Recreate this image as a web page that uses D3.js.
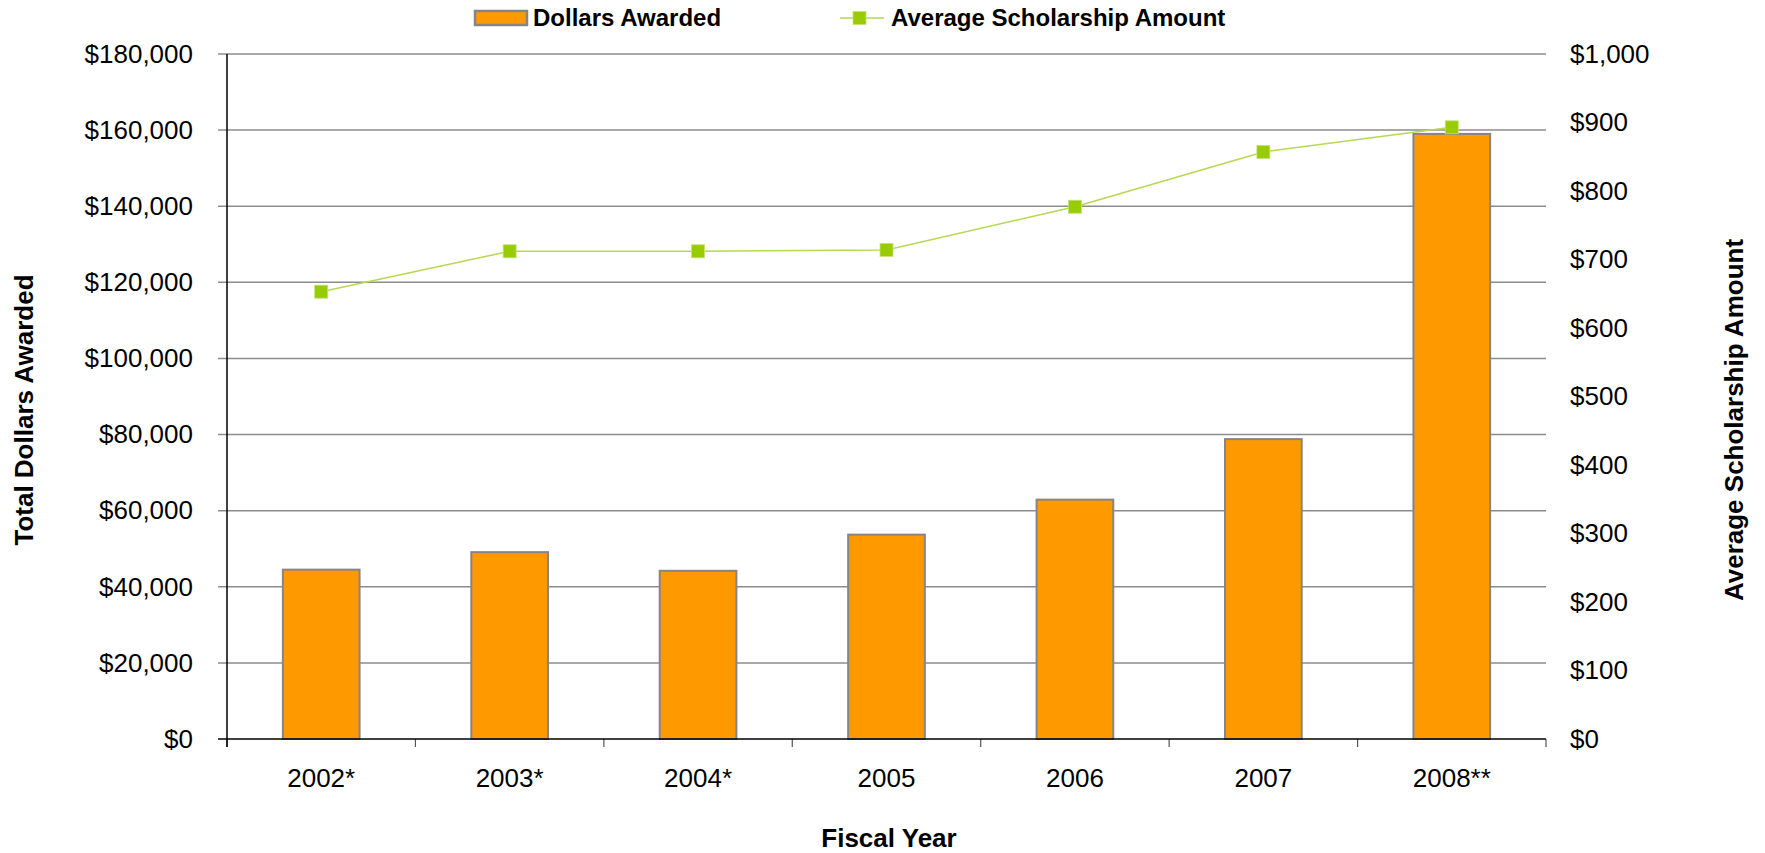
<!DOCTYPE html>
<html>
<head>
<meta charset="utf-8">
<script src="https://cdn.jsdelivr.net/npm/d3@7"></script>
<style>
  html, body { margin: 0; padding: 0; background: #fff; }
  svg { display: block; font-family: "Liberation Sans", Arial, sans-serif; }
</style>
</head>
<body>
<svg id="chart" width="1765" height="853"></svg>
<script>
const categories = ["2002*", "2003*", "2004*", "2005", "2006", "2007", "2008**"];
const dollarsAwarded = [44500, 49100, 44200, 53700, 62900, 78800, 159000];
const averageScholarship = [653, 712, 712, 714, 777, 857, 893];
const leftTicks = [0, 20000, 40000, 60000, 80000, 100000, 120000, 140000, 160000, 180000];
const rightTicks = [0, 100, 200, 300, 400, 500, 600, 700, 800, 900, 1000];

(function () {
const svg = d3.select("#chart");
const pL = 227, pR = 1546, pT = 54, pB = 739;

const x = d3.scaleBand().domain(categories).range([pL, pR]).paddingInner(0.593).paddingOuter(0.2965);
const xOuter = d3.scaleBand().domain(categories).range([pL, pR]);
const yL = d3.scaleLinear().domain([0, 180000]).range([pB, pT]);
const yR = d3.scaleLinear().domain([0, 1000]).range([pB, pT]);

const fmt = v => "$" + d3.format(",")(v);
const FONT = "'Liberation Sans', Arial, sans-serif";

// gridlines
svg.append("g").selectAll("line").data(leftTicks.filter(d => d > 0)).join("line")
  .attr("x1", pL - 9).attr("x2", pR)
  .attr("y1", d => yL(d)).attr("y2", d => yL(d))
  .attr("stroke", "#8c8c8c").attr("stroke-width", 1.5);

// left axis labels
const gL = svg.append("g").attr("transform", `translate(${pL},0)`)
  .call(d3.axisLeft(yL).tickValues(leftTicks).tickFormat(fmt).tickSize(0).tickPadding(34));
gL.select(".domain").remove();
gL.selectAll("text").attr("font-size", 26).attr("fill", "#000").attr("font-family", FONT);

// right axis labels
const gR = svg.append("g").attr("transform", `translate(${pR},0)`)
  .call(d3.axisRight(yR).tickValues(rightTicks).tickFormat(fmt).tickSize(0).tickPadding(24));
gR.select(".domain").remove();
gR.selectAll("text").attr("font-size", 26).attr("fill", "#000").attr("font-family", FONT);

// bars
svg.append("g").selectAll("rect").data(categories).join("rect")
  .attr("x", d => x(d))
  .attr("width", x.bandwidth())
  .attr("y", (d, i) => yL(dollarsAwarded[i]))
  .attr("height", (d, i) => pB - yL(dollarsAwarded[i]))
  .attr("fill", "#ff9900")
  .attr("stroke", "#858585").attr("stroke-width", 2);

// bottom axis
const gX = svg.append("g").attr("transform", `translate(0,${pB})`)
  .call(d3.axisBottom(xOuter).tickSize(0).tickPadding(30));
gX.select(".domain").remove();
gX.selectAll("text").attr("font-size", 26).attr("fill", "#000").attr("font-family", FONT);
const boundaries = categories.map(c => xOuter(c)).concat([pR]);
svg.append("g").selectAll("line").data(boundaries).join("line")
  .attr("x1", d => d).attr("x2", d => d)
  .attr("y1", pB).attr("y2", pB + 8)
  .attr("stroke", "#555").attr("stroke-width", 1.2);
svg.append("line").attr("x1", pL - 9).attr("x2", pR)
  .attr("y1", pB).attr("y2", pB)
  .attr("stroke", "#000").attr("stroke-width", 1.5);

// left axis line
svg.append("line").attr("x1", pL).attr("x2", pL)
  .attr("y1", pT).attr("y2", pB + 8)
  .attr("stroke", "#000").attr("stroke-width", 1.5);

// line series
const cx = d => x(d) + x.bandwidth() / 2;
const line = d3.line().x((d, i) => cx(categories[i])).y(d => yR(d));
svg.append("path").datum(averageScholarship)
  .attr("d", line).attr("fill", "none")
  .attr("stroke", "#b5d94f").attr("stroke-width", 1.5);
const ms = 13;
svg.append("g").selectAll("rect").data(averageScholarship).join("rect")
  .attr("x", (d, i) => cx(categories[i]) - ms / 2)
  .attr("y", d => yR(d) - ms / 2)
  .attr("width", ms).attr("height", ms)
  .attr("fill", "#99cc00").attr("stroke", "#c4e37a").attr("stroke-width", 0.8);

// axis titles
svg.append("text").attr("transform", "translate(33,410) rotate(-90)")
  .attr("text-anchor", "middle").attr("font-size", 26).attr("font-weight", "bold")
  .text("Total Dollars Awarded");
svg.append("text").attr("transform", "translate(1743,420) rotate(-90)")
  .attr("text-anchor", "middle").attr("font-size", 26).attr("font-weight", "bold")
  .text("Average Scholarship Amount");
svg.append("text").attr("x", 889).attr("y", 847)
  .attr("text-anchor", "middle").attr("font-size", 26).attr("font-weight", "bold")
  .text("Fiscal Year");

// legend
const lg = svg.append("g");
lg.append("rect").attr("x", 475).attr("y", 11).attr("width", 52).attr("height", 14)
  .attr("fill", "#ff9900").attr("stroke", "#858585").attr("stroke-width", 2.5);
lg.append("text").attr("x", 533).attr("y", 26).attr("font-size", 24).attr("font-weight", "bold")
  .text("Dollars Awarded");
lg.append("line").attr("x1", 840).attr("x2", 884).attr("y1", 18).attr("y2", 18)
  .attr("stroke", "#b5d94f").attr("stroke-width", 1.5);
lg.append("rect").attr("x", 853).attr("y", 11.5).attr("width", ms).attr("height", ms)
  .attr("fill", "#99cc00").attr("stroke", "#c4e37a").attr("stroke-width", 0.8);
lg.append("text").attr("x", 891).attr("y", 26).attr("font-size", 24).attr("font-weight", "bold")
  .text("Average Scholarship Amount");
})();
</script>
</body>
</html>
